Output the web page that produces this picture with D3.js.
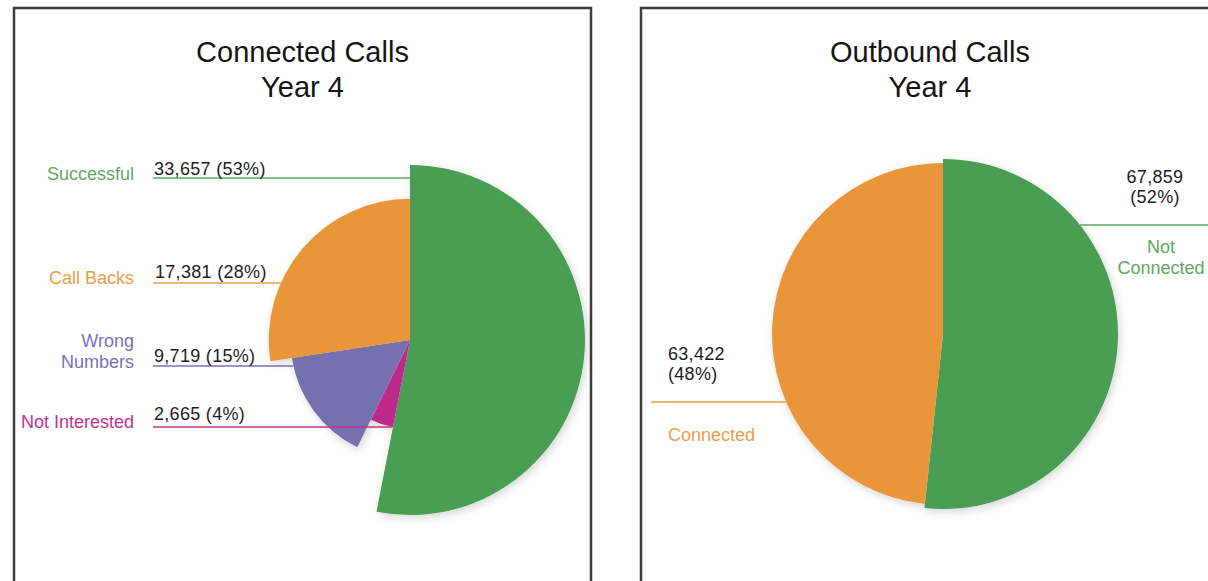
<!DOCTYPE html>
<html>
<head>
<meta charset="utf-8">
<script src="https://cdn.jsdelivr.net/npm/d3@7"></script>
<style>
  body { margin: 0; background: #fff; }
  svg { display: block; }
  text { font-family: "Liberation Sans", Arial, Helvetica, sans-serif; }
</style>
</head>
<body>
<svg id="chart" width="1208" height="581"></svg>
<script>
// ---- Connected calls, year 4 ----
const connCategories = ["Successful", "Call Backs", "Wrong Numbers", "Not Interested"];
const connValues = [33657, 17381, 9719, 2665];
const connPercents = [53, 28, 15, 4];

// ---- Outbound calls, year 4 ----
const outCategories = ["Not Connected", "Connected"];
const outValues = [67859, 63422];
const outPercents = [52, 48];

const titleLines = [["Connected Calls", "Year 4"], ["Outbound Calls", "Year 4"]];

// slice fills and label/leader colours per category
const fillColor = d3.scaleOrdinal()
  .domain(["Successful", "Call Backs", "Wrong Numbers", "Not Interested", "Not Connected", "Connected"])
  .range(["#489e52", "#e9963a", "#7670b0", "#bd2c8b", "#489e52", "#e9963a"]);
const labelColor = d3.scaleOrdinal()
  .domain(fillColor.domain())
  .range(["#5ea862", "#ec9d4b", "#7772b6", "#c0338d", "#5ea862", "#ec9d4b"]);

const svg = d3.select("#chart");
const fmt = d3.format(",");

// soft shadow under the pies
const defs = svg.append("defs");
defs.append("filter").attr("id", "pieShadow")
  .attr("x", "-20%").attr("y", "-20%").attr("width", "140%").attr("height", "140%")
  .append("feDropShadow")
  .attr("dx", 2).attr("dy", 3).attr("stdDeviation", 4)
  .attr("flood-color", "#000").attr("flood-opacity", 0.16);

// where a horizontal leader at offset dy meets a slice (side -1 = left, +1 = right)
function leaderX(slice, r, dy, side) {
  if (Math.abs(dy) < r) {
    const dx = side * Math.sqrt(r * r - dy * dy);
    let a = Math.atan2(dx, -dy);
    if (a < 0) a += 2 * Math.PI;
    if (a >= slice.startAngle && a <= slice.endAngle) return dx;
  }
  return 0;
}

function drawPanel(cfg) {
  const g = svg.append("g");

  // frame
  g.append("rect")
    .attr("x", cfg.frame.x).attr("y", cfg.frame.y)
    .attr("width", cfg.frame.w).attr("height", cfg.frame.h)
    .attr("fill", "#fff").attr("stroke", "#3c3c3c").attr("stroke-width", 2.5);

  // title
  const title = g.append("text")
    .attr("x", cfg.frame.x + cfg.frame.w / 2).attr("y", cfg.titleY)
    .attr("text-anchor", "middle").attr("font-size", 29).attr("fill", "#151515");
  cfg.title.forEach((t, i) => {
    title.append("tspan").attr("x", cfg.frame.x + cfg.frame.w / 2)
      .attr("dy", i === 0 ? 0 : 35).text(t);
  });

  const rows = cfg.categories.map((c, i) => ({
    category: c, value: cfg.values[i], pct: cfg.percents[i], idx: i
  }));

  const radius = d3.scaleSqrt()
    .domain([0, d3.max(cfg.values)])
    .range([55, 175]);

  const pie = d3.pie().sort(null).value(d => d.value);
  const slices = pie(cfg.order(rows));
  const arc = d3.arc().innerRadius(0).outerRadius(d => radius(d.data.value));

  const pieG = g.append("g")
    .attr("transform", `translate(${cfg.cx},${cfg.cy})`)
    .attr("filter", "url(#pieShadow)");
  pieG.selectAll("path").data(slices).join("path")
    .attr("d", arc)
    .attr("fill", d => fillColor(d.data.category));

  // leaders and labels
  slices.forEach(s => {
    const row = s.data;
    const L = cfg.labels[row.idx];
    const dy = L.lineY - cfg.cy;
    const r = radius(row.value);
    const endX = cfg.cx + leaderX(s, r, dy, L.side);

    g.append("line")
      .attr("x1", L.lineFrom).attr("x2", endX)
      .attr("y1", L.lineY).attr("y2", L.lineY)
      .attr("stroke", labelColor(row.category)).attr("stroke-width", 1.6);

    // value text
    const valueLines = L.valueWrap
      ? [fmt(row.value), `(${row.pct}%)`]
      : [`${fmt(row.value)} (${row.pct}%)`];
    const vt = g.append("text")
      .attr("text-anchor", L.valueAnchor)
      .attr("font-size", 18).attr("fill", "#1d1d1d")
      .attr("letter-spacing", 0.3);
    valueLines.forEach((t, i) => {
      vt.append("tspan").attr("x", L.valueX)
        .attr("y", L.valueY - (valueLines.length - 1 - i) * 20).text(t);
    });

    // category text
    const catLines = L.catWrap ? row.category.split(" ") : [row.category];
    const ct = g.append("text")
      .attr("text-anchor", L.catAnchor)
      .attr("font-size", 18).attr("fill", labelColor(row.category));
    catLines.forEach((t, i) => {
      ct.append("tspan").attr("x", L.catX)
        .attr("y", L.catY + i * 21).text(t);
    });
  });
}

// left panel: largest slice first clockwise, the rest from smallest up
drawPanel({
  frame: { x: 14, y: 8, w: 577, h: 620 },
  title: titleLines[0], titleY: 62,
  categories: connCategories, values: connValues, percents: connPercents,
  order: rows => [rows[0], ...rows.slice(1).reverse()],
  cx: 410, cy: 340,
  labels: [
    { side: -1, lineY: 178, lineFrom: 153, valueX: 154, valueY: 175, valueAnchor: "start",
      catX: 134, catY: 180, catAnchor: "end" },
    { side: -1, lineY: 283, lineFrom: 153, valueX: 155, valueY: 278, valueAnchor: "start",
      catX: 134, catY: 284, catAnchor: "end" },
    { side: -1, lineY: 366, lineFrom: 153, valueX: 154, valueY: 362, valueAnchor: "start",
      catX: 134, catY: 347, catAnchor: "end", catWrap: true },
    { side: -1, lineY: 427, lineFrom: 153, valueX: 154, valueY: 420, valueAnchor: "start",
      catX: 134, catY: 428, catAnchor: "end" }
  ]
});

// right panel
drawPanel({
  frame: { x: 641, y: 8, w: 578, h: 620 },
  title: titleLines[1], titleY: 62,
  categories: outCategories, values: outValues, percents: outPercents,
  order: rows => rows,
  cx: 943, cy: 334,
  labels: [
    { side: 1, lineY: 225, lineFrom: 1210, valueX: 1155, valueY: 203, valueAnchor: "middle",
      valueWrap: true, catX: 1161, catY: 253, catAnchor: "middle", catWrap: true },
    { side: -1, lineY: 402, lineFrom: 651, valueX: 668, valueY: 380, valueAnchor: "start",
      valueWrap: true, catX: 668, catY: 441, catAnchor: "start" }
  ]
});
</script>
</body>
</html>
